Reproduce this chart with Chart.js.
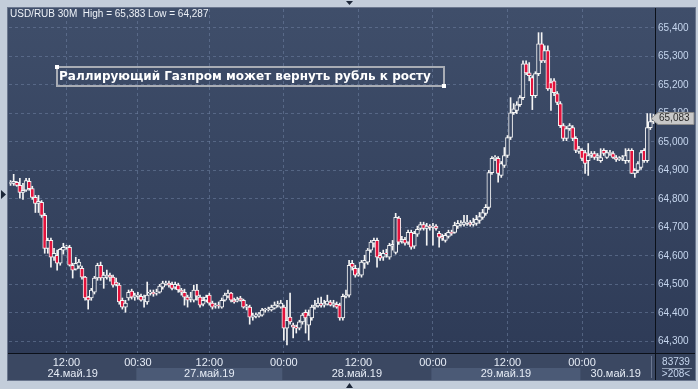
<!DOCTYPE html>
<html>
<head>
<meta charset="utf-8">
<script src="https://cdn.jsdelivr.net/npm/chart.js@4"></script>
<style>
  html, body { margin: 0; padding: 0; background: #c3cdda; }
  canvas { display: block; }
</style>
</head>
<body>
<canvas id="chart" width="698" height="389"></canvas>
<script>
// sessions (30M candles per trading day)
const dayNames = ['24.май.19', '27.май.19', '28.май.19', '29.май.19', '30.май.19'];
const dayStartMin = [180, 30, 0, 0, 0];
const dayCounts = [41, 47, 48, 48, 24];

const yMin = 64.259, yMax = 65.466;
const yTicks = [64.3, 64.4, 64.5, 64.6, 64.7, 64.8, 64.9, 65.0, 65.1, 65.2, 65.3, 65.4];

const openP = [
  64.854, 64.854, 64.858, 64.847, 64.822, 64.830, 64.861, 64.836, 64.805, 64.784,
  64.788, 64.742, 64.626, 64.654, 64.595, 64.602, 64.574, 64.620, 64.630, 64.630,
  64.567, 64.553, 64.564, 64.556, 64.525, 64.455, 64.452, 64.472, 64.522, 64.567,
  64.522, 64.525, 64.532, 64.525, 64.508, 64.497, 64.444, 64.420, 64.452, 64.476,
  64.455, 64.458, 64.458, 64.448, 64.438, 64.469, 64.472, 64.469, 64.472, 64.490,
  64.500, 64.504, 64.500, 64.490, 64.497, 64.480, 64.472, 64.455, 64.448, 64.444,
  64.480, 64.455, 64.430, 64.444, 64.462, 64.434, 64.424, 64.427, 64.420, 64.444,
  64.458, 64.469, 64.444, 64.441, 64.452, 64.444, 64.420, 64.420, 64.385, 64.388,
  64.388, 64.392, 64.410, 64.410, 64.410, 64.416, 64.427, 64.420, 64.420, 64.346,
  64.385, 64.357, 64.350, 64.346, 64.368, 64.402, 64.357, 64.382, 64.420, 64.424,
  64.430, 64.427, 64.430, 64.438, 64.427, 64.430, 64.427, 64.382, 64.458, 64.462,
  64.574, 64.556, 64.532, 64.532, 64.574, 64.578, 64.620, 64.644, 64.654, 64.602,
  64.595, 64.609, 64.595, 64.634, 64.612, 64.732, 64.651, 64.658, 64.648, 64.682,
  64.634, 64.676, 64.696, 64.710, 64.696, 64.704, 64.700, 64.704, 64.679, 64.668,
  64.654, 64.668, 64.682, 64.682, 64.704, 64.710, 64.710, 64.714, 64.714, 64.710,
  64.714, 64.724, 64.735, 64.749, 64.770, 64.892, 64.942, 64.942, 64.882, 64.917,
  64.952, 65.015, 65.102, 65.110, 65.130, 65.155, 65.274, 65.242, 65.225, 65.162,
  65.239, 65.344, 65.284, 65.320, 65.208, 65.214, 65.169, 65.134, 65.057, 65.012,
  65.046, 65.050, 65.012, 64.966, 64.970, 64.962, 64.934, 64.952, 64.959, 64.945,
  64.934, 64.970, 64.945, 64.959, 64.959, 64.945, 64.938, 64.942, 64.934, 64.934,
  64.970, 64.889, 64.900, 64.910, 64.970, 64.934, 65.050, 65.071
];
const highP = [
  64.864, 64.886, 64.861, 64.872, 64.854, 64.872, 64.872, 64.844, 64.812, 64.812,
  64.794, 64.749, 64.662, 64.662, 64.626, 64.620, 64.626, 64.644, 64.637, 64.637,
  64.574, 64.595, 64.588, 64.564, 64.528, 64.458, 64.486, 64.528, 64.574, 64.578,
  64.542, 64.550, 64.539, 64.532, 64.522, 64.504, 64.452, 64.444, 64.480, 64.483,
  64.469, 64.472, 64.466, 64.462, 64.508, 64.480, 64.480, 64.483, 64.500, 64.511,
  64.511, 64.511, 64.508, 64.508, 64.504, 64.486, 64.483, 64.462, 64.472, 64.497,
  64.500, 64.462, 64.455, 64.462, 64.469, 64.441, 64.434, 64.438, 64.452, 64.469,
  64.480, 64.472, 64.452, 64.455, 64.458, 64.448, 64.430, 64.427, 64.399, 64.399,
  64.402, 64.416, 64.416, 64.420, 64.427, 64.438, 64.441, 64.444, 64.427, 64.444,
  64.469, 64.364, 64.357, 64.374, 64.399, 64.410, 64.410, 64.427, 64.444, 64.452,
  64.455, 64.444, 64.462, 64.444, 64.444, 64.438, 64.434, 64.466, 64.480, 64.584,
  64.584, 64.567, 64.556, 64.584, 64.602, 64.626, 64.654, 64.662, 64.662, 64.612,
  64.620, 64.623, 64.644, 64.654, 64.749, 64.738, 64.668, 64.665, 64.690, 64.690,
  64.686, 64.704, 64.718, 64.718, 64.714, 64.710, 64.714, 64.710, 64.686, 64.676,
  64.679, 64.690, 64.690, 64.718, 64.724, 64.724, 64.742, 64.742, 64.724, 64.732,
  64.742, 64.752, 64.763, 64.780, 64.900, 64.948, 64.952, 64.948, 64.931, 64.980,
  65.022, 65.155, 65.134, 65.141, 65.162, 65.284, 65.284, 65.278, 65.232, 65.246,
  65.383, 65.383, 65.337, 65.337, 65.222, 65.222, 65.176, 65.141, 65.064, 65.054,
  65.064, 65.057, 65.018, 64.984, 64.976, 64.970, 64.994, 64.966, 64.966, 64.959,
  64.976, 64.976, 64.970, 64.970, 64.966, 64.952, 64.948, 64.952, 64.976, 64.976,
  64.976, 64.906, 64.931, 64.970, 64.976, 65.099, 65.099, 65.096
];
const lowP = [
  64.847, 64.847, 64.844, 64.802, 64.798, 64.826, 64.830, 64.798, 64.752, 64.752,
  64.735, 64.609, 64.609, 64.560, 64.584, 64.550, 64.567, 64.606, 64.623, 64.564,
  64.522, 64.550, 64.556, 64.518, 64.444, 64.413, 64.444, 64.466, 64.514, 64.514,
  64.486, 64.518, 64.511, 64.490, 64.494, 64.430, 64.413, 64.402, 64.444, 64.448,
  64.444, 64.448, 64.441, 64.420, 64.430, 64.462, 64.458, 64.462, 64.469, 64.483,
  64.497, 64.490, 64.480, 64.483, 64.472, 64.462, 64.427, 64.420, 64.438, 64.438,
  64.444, 64.420, 64.424, 64.438, 64.427, 64.413, 64.416, 64.416, 64.416, 64.441,
  64.452, 64.438, 64.434, 64.438, 64.441, 64.416, 64.410, 64.360, 64.374, 64.382,
  64.385, 64.388, 64.402, 64.406, 64.406, 64.413, 64.420, 64.416, 64.304, 64.287,
  64.360, 64.312, 64.329, 64.340, 64.360, 64.329, 64.304, 64.374, 64.413, 64.420,
  64.420, 64.420, 64.427, 64.424, 64.420, 64.416, 64.374, 64.374, 64.452, 64.455,
  64.550, 64.525, 64.528, 64.525, 64.556, 64.570, 64.612, 64.630, 64.560, 64.584,
  64.584, 64.595, 64.588, 64.620, 64.606, 64.640, 64.644, 64.637, 64.640, 64.623,
  64.626, 64.668, 64.690, 64.690, 64.637, 64.690, 64.637, 64.690, 64.630, 64.654,
  64.648, 64.662, 64.672, 64.679, 64.696, 64.704, 64.704, 64.707, 64.704, 64.704,
  64.707, 64.714, 64.728, 64.742, 64.763, 64.886, 64.934, 64.858, 64.875, 64.910,
  64.945, 65.008, 65.096, 65.099, 65.124, 65.148, 65.236, 65.214, 65.113, 65.155,
  65.232, 65.278, 65.278, 65.180, 65.110, 65.162, 65.130, 65.050, 65.004, 65.004,
  65.040, 65.004, 64.962, 64.959, 64.934, 64.889, 64.882, 64.945, 64.938, 64.934,
  64.928, 64.952, 64.942, 64.952, 64.942, 64.931, 64.934, 64.934, 64.924, 64.928,
  64.889, 64.875, 64.892, 64.903, 64.928, 64.928, 65.043, 65.064
];
const closeP = [
  64.858, 64.861, 64.847, 64.822, 64.830, 64.864, 64.836, 64.805, 64.784, 64.791,
  64.742, 64.626, 64.654, 64.595, 64.609, 64.574, 64.623, 64.630, 64.634, 64.567,
  64.550, 64.574, 64.578, 64.525, 64.452, 64.444, 64.480, 64.522, 64.567, 64.522,
  64.532, 64.532, 64.525, 64.497, 64.500, 64.438, 64.420, 64.434, 64.472, 64.455,
  64.462, 64.462, 64.444, 64.455, 64.462, 64.472, 64.466, 64.472, 64.494, 64.504,
  64.504, 64.497, 64.486, 64.500, 64.480, 64.472, 64.455, 64.444, 64.455, 64.480,
  64.458, 64.427, 64.444, 64.455, 64.434, 64.420, 64.427, 64.424, 64.444, 64.462,
  64.469, 64.444, 64.438, 64.448, 64.444, 64.420, 64.424, 64.385, 64.392, 64.392,
  64.396, 64.410, 64.413, 64.413, 64.420, 64.427, 64.430, 64.434, 64.346, 64.374,
  64.368, 64.350, 64.346, 64.368, 64.392, 64.382, 64.392, 64.420, 64.427, 64.434,
  64.427, 64.434, 64.441, 64.427, 64.434, 64.420, 64.382, 64.458, 64.462, 64.567,
  64.560, 64.532, 64.539, 64.578, 64.584, 64.620, 64.648, 64.654, 64.595, 64.592,
  64.609, 64.606, 64.637, 64.640, 64.735, 64.648, 64.658, 64.644, 64.682, 64.630,
  64.679, 64.693, 64.710, 64.696, 64.704, 64.700, 64.704, 64.696, 64.665, 64.662,
  64.672, 64.682, 64.679, 64.707, 64.714, 64.714, 64.718, 64.718, 64.710, 64.718,
  64.728, 64.738, 64.752, 64.770, 64.892, 64.942, 64.945, 64.889, 64.924, 64.952,
  65.015, 65.102, 65.116, 65.130, 65.155, 65.274, 65.242, 65.232, 65.162, 65.239,
  65.344, 65.284, 65.320, 65.186, 65.186, 65.172, 65.138, 65.057, 65.012, 65.046,
  65.057, 65.012, 64.970, 64.976, 64.942, 64.924, 64.952, 64.959, 64.945, 64.952,
  64.945, 64.959, 64.962, 64.962, 64.945, 64.938, 64.942, 64.945, 64.952, 64.970,
  64.889, 64.900, 64.924, 64.962, 64.934, 65.050, 65.071, 65.083
];

const headline = 'Раллирующий Газпром может вернуть рубль к росту';

// build category labels from the sessions
const labels = [];
const tickIdx = [];
dayNames.forEach((d, k) => {
  for (let j = 0; j < dayCounts[k]; j++) {
    const m = dayStartMin[k] + 30 * j;
    const t = String(Math.floor(m / 60)).padStart(2, '0') + ':' + String(m % 60).padStart(2, '0');
    if (t === '12:00' || t === '00:00' || (j === 0 && k > 0)) tickIdx.push(labels.length);
    labels.push(d + ' ' + t);
  }
});

const fmt = v => v.toFixed(3).replace('.', ',');
const FONT = '"Liberation Sans", Arial, sans-serif';
const WHITE = '#f4f4f4';
const RED = '#e3123c';

let bgGrad = null;
function plotGradient(chart) {
  if (!bgGrad) {
    bgGrad = chart.ctx.createLinearGradient(0, 8, 0, 353);
    bgGrad.addColorStop(0, '#3f4e6a');
    bgGrad.addColorStop(1, '#2e3b57');
  }
  return bgGrad;
}

const frame = {
  id: 'frame',
  beforeDraw(chart) {
    const { ctx, chartArea: a } = chart;
    const xs = chart.scales.x;
    ctx.save();
    ctx.fillStyle = '#c3cdda';
    ctx.fillRect(0, 0, chart.width, chart.height);
    ctx.fillStyle = plotGradient(chart);
    ctx.fillRect(8, 8, 687, a.bottom - 8);
    ctx.fillStyle = '#3b4862';
    ctx.fillRect(8, a.bottom, a.right - 8, 380 - a.bottom);
    ctx.fillStyle = '#34415b';
    ctx.fillRect(a.right, a.bottom, 695 - a.right, 380 - a.bottom);

    // day bands and date labels
    const half = (xs.getPixelForValue(1) - xs.getPixelForValue(0)) / 2;
    let start = 0;
    ctx.font = '11px ' + FONT;
    ctx.textAlign = 'center';
    ctx.textBaseline = 'middle';
    dayCounts.forEach((n, k) => {
      const x0 = k === 0 ? a.left : xs.getPixelForValue(start) - half;
      const x1 = k === dayCounts.length - 1 ? a.right - 4 : xs.getPixelForValue(start + n - 1) + half;
      if (k % 2 === 1) {
        ctx.fillStyle = '#4b5a76';
        ctx.fillRect(x0, 368, x1 - x0, 12);
      }
      ctx.fillStyle = '#e6ecf6';
      ctx.fillText(dayNames[k], (x0 + x1) / 2, 374);
      start += n;
    });
    ctx.restore();
  },
  afterDraw(chart) {
    const { ctx, chartArea: a } = chart;
    const ys = chart.scales.y;
    ctx.save();
    // frame border
    ctx.strokeStyle = '#6b778e';
    ctx.lineWidth = 1;
    ctx.strokeRect(7.5, 7.5, 688, 373);
    // separators
    ctx.strokeStyle = '#0b1019';
    ctx.beginPath();
    ctx.moveTo(8, a.bottom + 0.5); ctx.lineTo(695, a.bottom + 0.5);
    ctx.moveTo(a.right + 0.5, 8); ctx.lineTo(a.right + 0.5, 380);
    ctx.stroke();
    ctx.strokeStyle = '#6a7690';
    ctx.beginPath();
    ctx.moveTo(651.5, 356); ctx.lineTo(651.5, 378);
    ctx.stroke();

    // bars counter box
    ctx.fillStyle = '#c6d6ee';
    ctx.font = '10px ' + FONT;
    ctx.textAlign = 'center';
    ctx.textBaseline = 'middle';
    ctx.fillText('83739', 676, 362);
    ctx.fillText('>' + labels.length + '<', 676, 374);
    ctx.strokeStyle = '#8d9ab0';
    ctx.beginPath();
    ctx.moveTo(662, 368.5); ctx.lineTo(692, 368.5);
    ctx.stroke();

    // current price marker
    const last = closeP[closeP.length - 1];
    const py = Math.round(ys.getPixelForValue(last)) + 0.5;
    ctx.beginPath();
    ctx.moveTo(651, py);
    ctx.lineTo(658, py - 6);
    ctx.lineTo(694, py - 6);
    ctx.lineTo(694, py + 6);
    ctx.lineTo(658, py + 6);
    ctx.closePath();
    ctx.fillStyle = '#c8c8c8';
    ctx.fill();
    ctx.strokeStyle = '#8a8a8a';
    ctx.stroke();
    ctx.fillStyle = '#2a2a2a';
    ctx.textAlign = 'left';
    ctx.fillText(fmt(last), 659, py);

    // header
    ctx.fillStyle = '#eef2f8';
    ctx.font = '10px ' + FONT;
    ctx.textAlign = 'left';
    ctx.fillText('USD/RUB 30M  High = ' + fmt(Math.max(...highP)) + ' Low = ' + fmt(Math.min(...lowP)), 10, 14);

    // text annotation
    ctx.strokeStyle = '#a9adb5';
    ctx.lineWidth = 2;
    ctx.strokeRect(57, 67, 387, 19);
    ctx.fillStyle = '#ffffff';
    ctx.fillRect(55, 65, 4, 4);
    ctx.fillRect(442, 84, 4, 4);
    ctx.font = 'bold 12px "DejaVu Sans", sans-serif';
    ctx.fillText(headline, 59, 77);

    // scroll arrows
    ctx.fillStyle = '#1c2638';
    ctx.beginPath();
    ctx.moveTo(346, 1); ctx.lineTo(353, 1); ctx.lineTo(349.5, 5); ctx.closePath();
    ctx.moveTo(346, 388); ctx.lineTo(353, 388); ctx.lineTo(349.5, 383); ctx.closePath();
    ctx.moveTo(1, 190); ctx.lineTo(6, 194.5); ctx.lineTo(1, 199); ctx.closePath();
    ctx.fill();
    ctx.restore();
  }
};

const gridColor = 'rgba(112,130,162,0.55)';

new Chart(document.getElementById('chart'), {
  type: 'bar',
  data: {
    labels: labels,
    datasets: [{
      label: 'wick',
      data: lowP.map((l, i) => [l, highP[i]]),
      backgroundColor: WHITE,
      borderWidth: 0,
      barThickness: 1,
      grouped: false,
      order: 2
    }, {
      label: 'body',
      data: openP.map((o, i) => [o, closeP[i]]),
      backgroundColor: ctx => closeP[ctx.dataIndex] < openP[ctx.dataIndex] ? RED : plotGradient(ctx.chart),
      borderColor: WHITE,
      borderWidth: 1,
      borderSkipped: false,
      barThickness: 4,
      minBarLength: 1,
      grouped: false,
      order: 1
    }]
  },
  options: {
    responsive: false,
    animation: false,
    events: [],
    layout: { padding: { left: 9, top: 8, right: 3, bottom: 10 } },
    plugins: { legend: { display: false }, tooltip: { enabled: false } },
    scales: {
      x: {
        type: 'category',
        offset: true,
        afterBuildTicks: ax => { ax.ticks = tickIdx.map(v => ({ value: v })); },
        afterFit: ax => { ax.height = 26; },
        grid: { offset: false, color: gridColor, drawTicks: false },
        border: { display: false, dash: [3, 3] },
        ticks: {
          autoSkip: false,
          maxRotation: 0,
          padding: 3,
          color: '#e6ecf6',
          font: { family: FONT, size: 11 },
          callback: v => labels[v].split(' ')[1]
        }
      },
      y: {
        position: 'right',
        min: yMin,
        max: yMax,
        afterBuildTicks: ax => { ax.ticks = yTicks.map(v => ({ value: v })); },
        afterFit: ax => { ax.width = 40; },
        grid: { color: gridColor, drawTicks: false },
        border: { display: false, dash: [3, 3] },
        ticks: {
          padding: 3,
          color: '#c6d6ee',
          font: { family: FONT, size: 10 },
          callback: v => fmt(v)
        }
      }
    }
  },
  plugins: [frame]
});
</script>
</body>
</html>
